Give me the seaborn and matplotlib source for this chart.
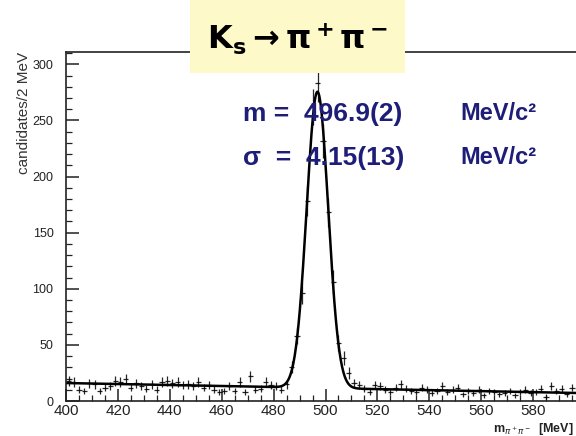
"""
K_s -> pi+ pi- invariant mass with gaussian + linear fit
"""

import numpy as np
import seaborn as sns
import matplotlib.pyplot as plt
from matplotlib.patches import Rectangle

# bin centres (2 MeV bins) and counts
mass = np.arange(401, 597, 2)
counts = [18, 17, 10, 9, 16, 15, 9, 12, 13, 18,
          17, 20, 12, 16, 13, 11, 15, 10, 17, 18,
          16, 17, 14, 15, 13, 17, 12, 14, 10, 8,
          9, 13, 9, 17, 8, 22, 10, 11, 17, 14,
          13, 10, 15, 30, 58, 96, 178, 262, 283, 232,
          168, 106, 52, 38, 25, 16, 14, 11, 8, 14,
          13, 10, 8, 12, 15, 11, 9, 8, 12, 10,
          7, 9, 13, 8, 10, 12, 6, 9, 7, 10,
          5, 9, 8, 6, 7, 9, 5, 8, 10, 7,
          8, 11, 4, 13, 9, 11, 6, 12]

# fit result (gaussian on a linear background)
fit_mean = 496.9
fit_sigma = 4.15
fit_amp = 264
bkg_400 = 16
bkg_slope = -0.045

xticks = [400, 420, 440, 460, 480, 500, 520, 540, 560, 580]
yticks = [0, 50, 100, 150, 200, 250, 300]

sns.set_style("ticks")
plt.rcParams['font.family'] = ['Liberation Sans', 'DejaVu Sans']

fig = plt.figure(figsize=(5.76, 4.36), dpi=100)
ax = fig.add_axes([66/576, 35/436, 519/576, 349/436])

counts = np.array(counts, dtype=float)
ax.errorbar(mass, counts, xerr=1, yerr=np.sqrt(counts), fmt='none',
            ecolor='black', elinewidth=0.9, alpha=0.85)

m = np.linspace(400, 600, 800)
fit = fit_amp * np.exp(-0.5 * ((m - fit_mean) / fit_sigma) ** 2) + bkg_400 + bkg_slope * (m - 400)
sns.lineplot(x=m, y=fit, color='black', linewidth=1.8, ax=ax)

ax.set_xlim(400, 600)
ax.set_ylim(0, 311)
ax.set_xticks(xticks)
ax.set_yticks(yticks)
ax.set_xticks(np.arange(400, 601, 5), minor=True)
ax.set_yticks(np.arange(0, 311, 10), minor=True)
ax.tick_params(which='both', direction='in', top=False, right=False, colors='#222222')
ax.tick_params(which='major', length=9, width=1.1)
ax.tick_params(which='minor', length=4.5, width=0.9)
ax.tick_params(axis='x', labelsize=11, pad=2)
ax.tick_params(axis='y', labelsize=9, pad=9)
for sp in ax.spines.values():
    sp.set_linewidth(1.2)
    sp.set_color('#222222')

ax.set_ylabel('candidates/2 MeV', loc='top', fontsize=11, color='#333333', labelpad=1)
ax.set_xlabel(r'm$_{\pi^+\pi^-}$  [MeV]', fontsize=9, color='#222222',
              fontweight='bold', ha='right', va='top')
ax.xaxis.set_label_coords((574 - 66) / 519, -0.057)

# yellow title box
fig.add_artist(Rectangle((190/576, 1 - 73/436), 215/576, 73/436,
                         transform=fig.transFigure, facecolor='#fdf9c9',
                         edgecolor='none', zorder=5))
fig.text(298/576, 1 - 38/436, r'$\mathbf{K_s \rightarrow \pi^+\pi^-}$',
         ha='center', va='center', fontsize=23, color='black', zorder=6)

navy = '#1e1e78'
fig.text(243/576, 1 - 114/436, 'm =  496.9(2)', ha='left', va='center',
         fontsize=19, fontweight='bold', color=navy)
fig.text(460/576, 1 - 113/436, 'MeV/c²', ha='left', va='center',
         fontsize=17, fontweight='bold', color=navy)
fig.text(243/576, 1 - 158/436, 'σ  =  4.15(13)', ha='left', va='center',
         fontsize=19, fontweight='bold', color=navy)
fig.text(460/576, 1 - 157/436, 'MeV/c²', ha='left', va='center',
         fontsize=17, fontweight='bold', color=navy)

fig.savefig('out.png', dpi=100)
